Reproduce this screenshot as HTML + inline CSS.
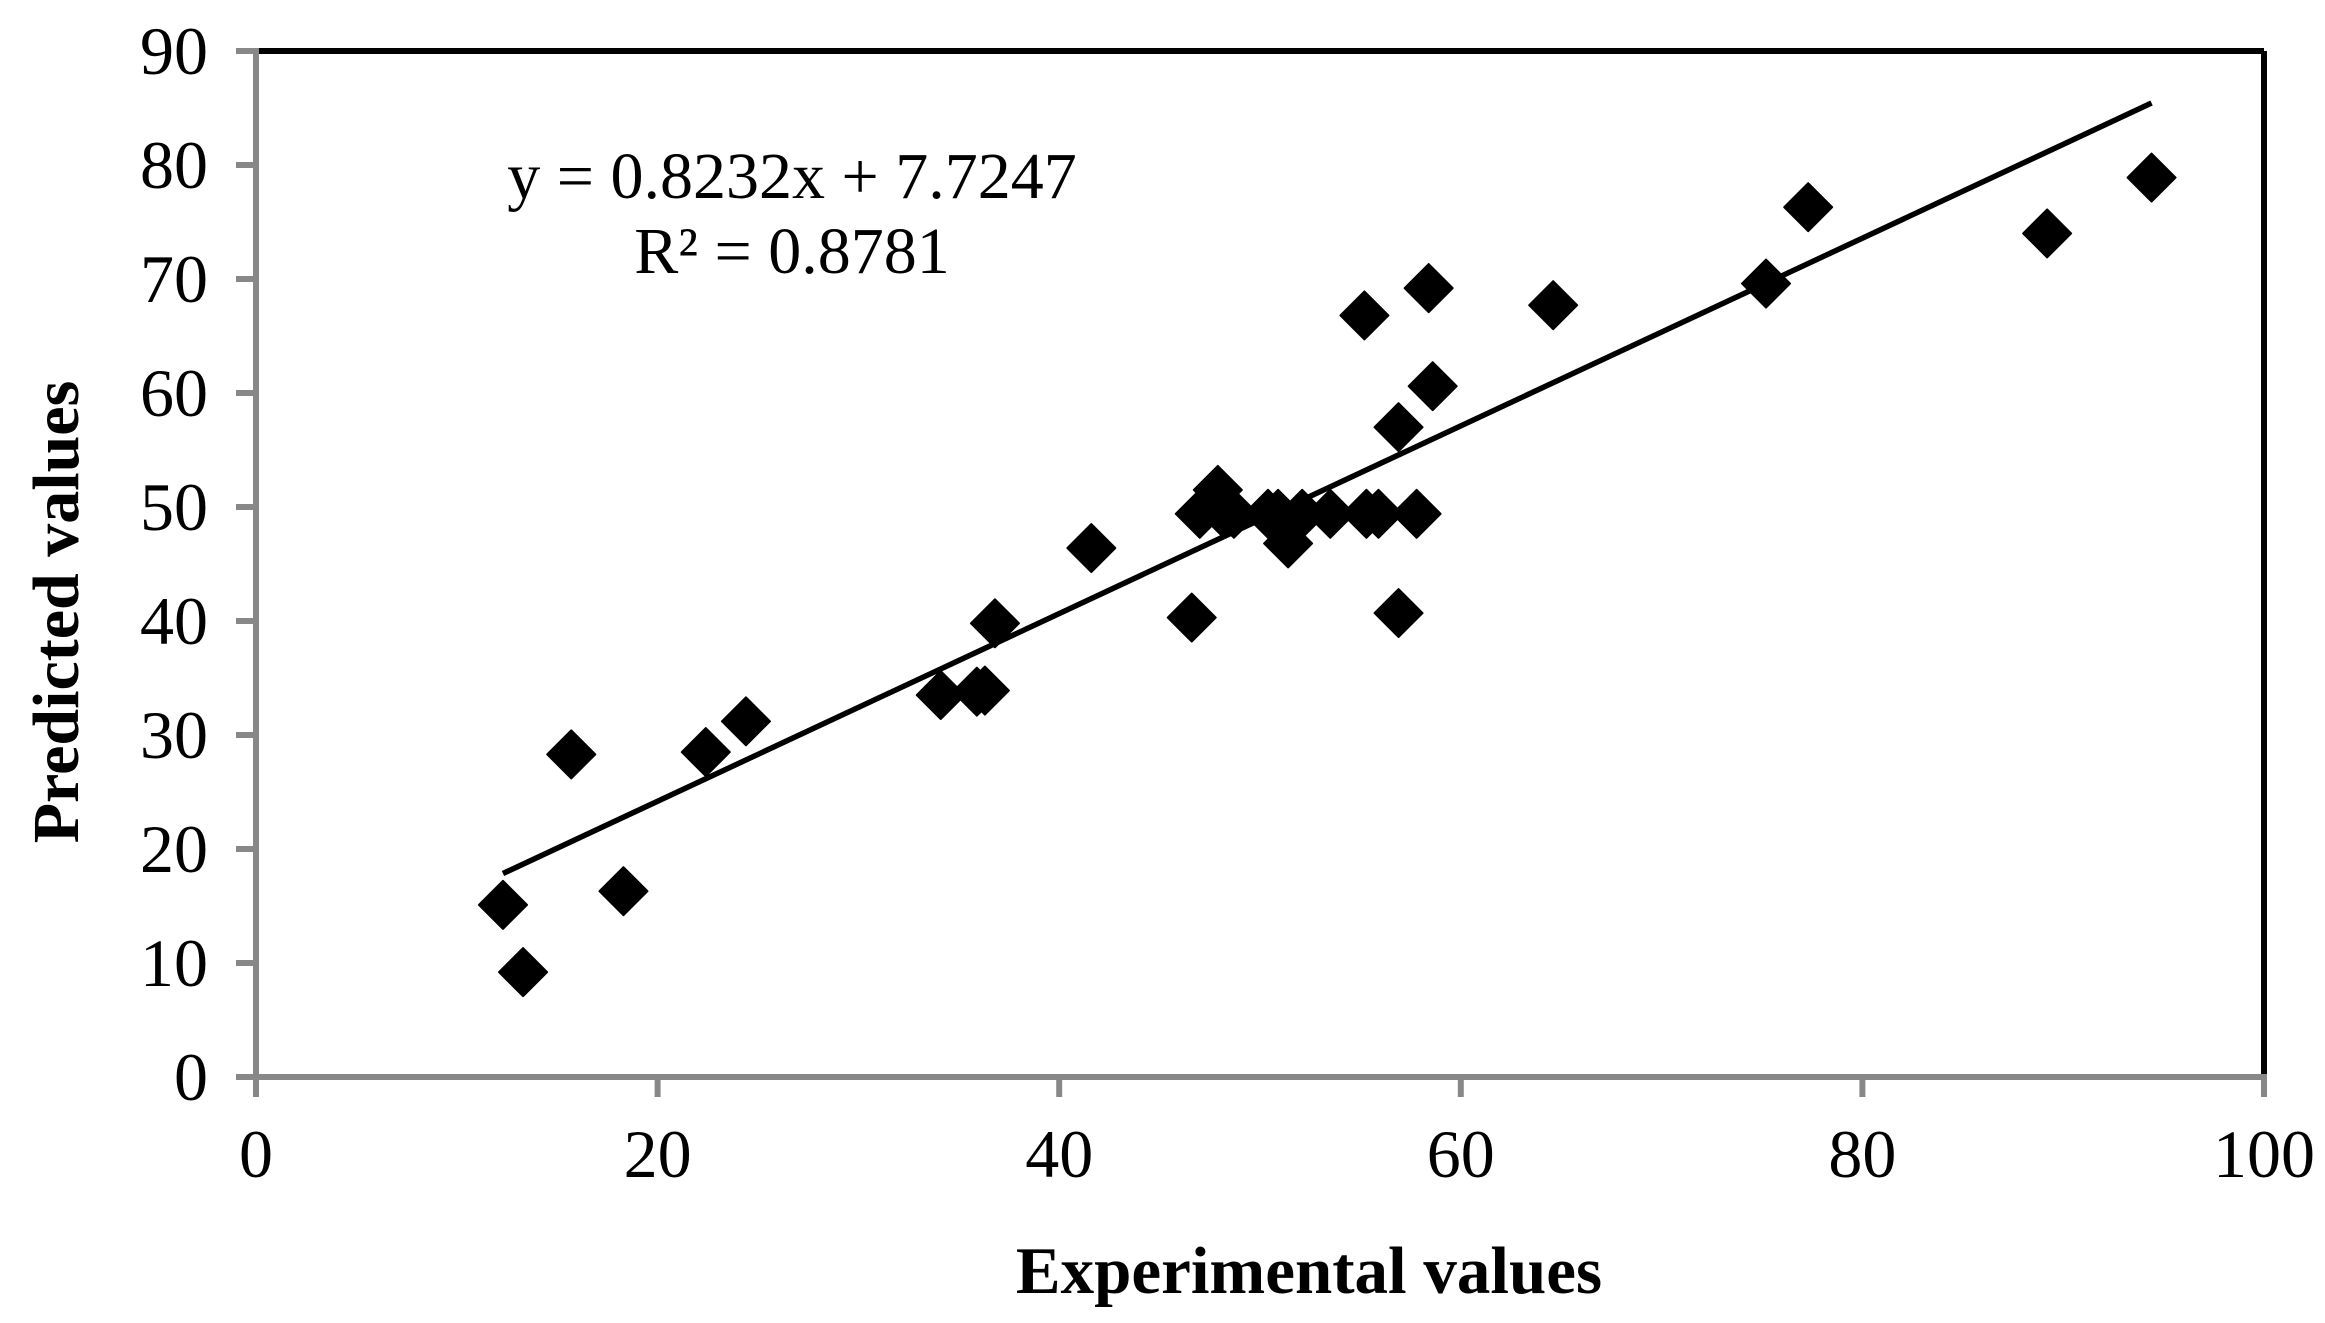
<!DOCTYPE html>
<html><head><meta charset="utf-8"><style>
html,body{margin:0;padding:0;background:#fff;}
svg{display:block;}
text{font-family:"Liberation Serif",serif;fill:#000;}
</style></head><body>
<svg id="chart" width="2325" height="1323" viewBox="0 0 2325 1323">
<g id="axes"></g>
<g id="marks"></g>
<text x="792" y="198" font-size="66" text-anchor="middle">y = 0.8232x + 7.7247</text>
<text x="792" y="273" font-size="66" text-anchor="middle">R² = 0.8781</text>
<text x="1309" y="1293" font-size="67" font-weight="bold" text-anchor="middle">Experimental values</text>
<text x="0" y="0" font-size="66" font-weight="bold" text-anchor="middle" transform="translate(78,612) rotate(-90)">Predicted values</text>
</svg>
<script>
const xTicks=[0,20,40,60,80,100];
const yTicks=[0,10,20,30,40,50,60,70,80,90];
const expValues=[12.3,13.3,15.7,18.3,22.4,24.4,34.1,35.9,36.3,36.8,41.6,46.6,47.0,47.9,48.2,48.7,50.4,50.9,51.4,52.1,53.5,55.2,55.3,55.9,56.9,56.9,57.8,58.4,58.6,64.6,75.2,77.3,89.2,94.4];
const predValues=[15.1,9.2,28.3,16.3,28.5,31.2,33.5,33.8,33.9,39.8,46.4,40.3,49.4,51.5,49.4,49.4,49.4,49.4,46.8,49.4,49.4,66.8,49.4,49.4,57.0,40.7,49.4,69.2,60.6,67.7,69.6,76.3,74.0,78.9];
const slope=0.8232, intercept=7.7247;
const NS='http://www.w3.org/2000/svg';
const X0=256,X1=2264,Y0=1077,Y1=51;
const sx=v=>X0+(v-0)/(100-0)*(X1-X0);
const sy=v=>Y0-(v-0)/(90-0)*(Y0-Y1);
function mk(tag,attrs,parent){const e=document.createElementNS(NS,tag);for(const k in attrs)e.setAttribute(k,attrs[k]);parent.appendChild(e);return e;}
const axes=document.getElementById('axes');
const marks=document.getElementById('marks');
let e;
e=mk('line',{x1:X0,y1:Y1,x2:X1,y2:Y1,stroke:'#000','stroke-width':6},axes);


e=mk('line',{x1:X1,y1:Y1,x2:X1,y2:Y0,stroke:'#000','stroke-width':6},axes);


e=mk('line',{x1:X0,y1:Y1-3,x2:X0,y2:Y0+20,stroke:'#888','stroke-width':6},axes);


e=mk('line',{x1:X0-20,y1:Y0,x2:X1+3,y2:Y0,stroke:'#888','stroke-width':6},axes);


yTicks.forEach(v=>{
  const y=sy(v);
  let t=mk('line',{x1:X0-20,y1:y,x2:X0,y2:y,stroke:'#888','stroke-width':6},axes);
  
  
  let l=mk('text',{x:208,y:y+23,'font-size':68,'text-anchor':'end'},axes);
  l.textContent=v;
  
  
});
xTicks.forEach(v=>{
  const x=sx(v);
  let t=mk('line',{x1:x,y1:Y0,x2:x,y2:Y0+20,stroke:'#888','stroke-width':6},axes);
  
  
  let l=mk('text',{x:x,y:1177,'font-size':68,'text-anchor':'middle'},axes);
  l.textContent=v;
  
  
});
const xmin=Math.min(...expValues),xmax=Math.max(...expValues);
e=mk('line',{x1:sx(xmin),y1:sy(slope*xmin+intercept),x2:sx(xmax),y2:sy(slope*xmax+intercept),stroke:'#000','stroke-width':5.5},marks);


expValues.forEach((xv,i)=>{
  const cx=sx(xv),cy=sy(predValues[i]),r=24;
  let p=mk('path',{d:`M${cx} ${cy-r}L${cx+r} ${cy}L${cx} ${cy+r}L${cx-r} ${cy}Z`,fill:'#000','stroke':'#000','stroke-width':2,'stroke-linejoin':'round'},marks);
  
  
});
</script>
</body></html>
